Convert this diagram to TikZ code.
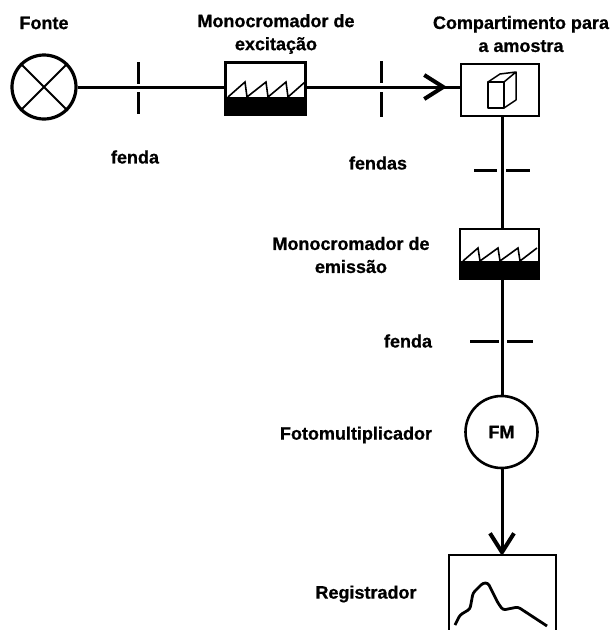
\documentclass[tikz,border=0pt]{standalone}
\usepackage{fontspec}
\setmainfont[BoldFeatures={FakeBold=0.7}]{Liberation Sans}
\usetikzlibrary{arrows.meta}
\tikzset{
  x=1pt,y=-1pt,
  lbl/.style={font=\fontsize{18}{23}\selectfont\bfseries,align=center,inner sep=0pt,text=black},
  conn/.style={line width=3pt,draw=black},
  slit/.style={line width=3pt,draw=black},
  boxy/.style={rectangle,draw=black,line width=2.6pt,inner sep=0pt,minimum width=#1},
  thin line/.style={line width=1.6pt,draw=black,line join=miter},
  tip/.style={-{Straight Barb[length=19pt,width=24pt,line width=4pt]}},
}
\begin{document}
\begin{tikzpicture}
\useasboundingbox (0,0) rectangle (614,630);
% labels
\node[lbl] (tFonte) at (44,23) {Fonte};
\node[lbl] (tMonoA) at (276,34) {Monocromador de\\excitação};
\node[lbl] (tComp) at (521,34) {Compartimento para\\a amostra};
\node[lbl] (tFendaA) at (135,157) {fenda};
\node[lbl] (tFendas) at (378,163) {fendas};
\node[lbl] (tMonoB) at (351,255) {Monocromador de\\emissão};
\node[lbl] (tFendaB) at (408,341) {fenda};
\node[lbl] (tFoto) at (356,435) {Fotomultiplicador};
\node[lbl] (tReg) at (366,594) {Registrador};
% components
\node[circle,draw=black,line width=3.2pt,minimum size=64pt,inner sep=0pt] (fonte) at (44,87) {};
\draw[line width=1.8pt] (fonte.45) -- (fonte.225) (fonte.135) -- (fonte.315);
\node[boxy=80pt,minimum height=52pt] (monoA) at (265.5,88.5) {};
\fill[black] (225,97) rectangle (306,115);
\draw[thin line] (228,97) -- (245,82) -- (247,97) -- (266,82) -- (268,97) -- (286,82) -- (288,97) -- (305,82);
\node[boxy=78pt,minimum height=52pt] (comp) at (500,90) {};
\draw[line width=1.5pt,line join=round] (488,82) rectangle (504,108);
\draw[line width=1.5pt,line join=round] (488,82) -- (500,74) -- (516,72) -- (516,100) -- (504,108) (504,82) -- (516,72);
\node[boxy=79pt,minimum height=50pt] (monoB) at (499.5,254) {};
\fill[black] (459,261) rectangle (540,279);
\draw[thin line] (463,261) -- (478,248) -- (480,261) -- (498,248) -- (500,261) -- (518,248) -- (520,261) -- (537,248);
\node[circle,draw=black,line width=2.6pt,minimum size=72pt,inner sep=0pt,font=\fontsize{18}{20}\selectfont\bfseries] (fm) at (501.5,432) {FM};
\coordinate (regTop) at (502,556);
\draw[line width=2.6pt,line join=miter] (449,630) -- (449,555) -- (556,555) -- (556,630);
\draw[line width=2.8pt,line join=round,rounded corners=2.5pt] (455,625) -- (460,615) -- (470,609) -- (473,593) -- (483,583) -- (488,583) -- (498,603) -- (503,610) -- (518,607) -- (547,626);
% slits
\coordinate (sA) at (138,87);
\coordinate (sB) at (381,87);
\coordinate (sC) at (502,170);
\coordinate (sD) at (502,341);
\draw[slit] (138,62) -- (138,84) (138,92) -- (138,114);
\draw[slit] (381,61) -- (381,83) (381,92) -- (381,117);
\draw[slit] (474,170) -- (497,170) (506,170) -- (530,170);
\draw[slit] (470,341) -- (499,341) (507,341) -- (533,341);
% connectors
\draw[conn] (fonte.east) -- (sA) -- (monoA.west |- sA);
\draw[conn] (monoA.east |- sB) -- (sB) -- (comp.west |- sB);
\draw[conn,tip] (sB) -- (447,87);
\draw[conn] (comp.south -| sC) -- (sC) -- (monoB.north -| sC);
\draw[conn] (monoB.south -| sD) -- (sD) -- (fm.north -| sD);
\draw[conn,tip] (fm.south -| regTop) -- (regTop);
\end{tikzpicture}
\end{document}
